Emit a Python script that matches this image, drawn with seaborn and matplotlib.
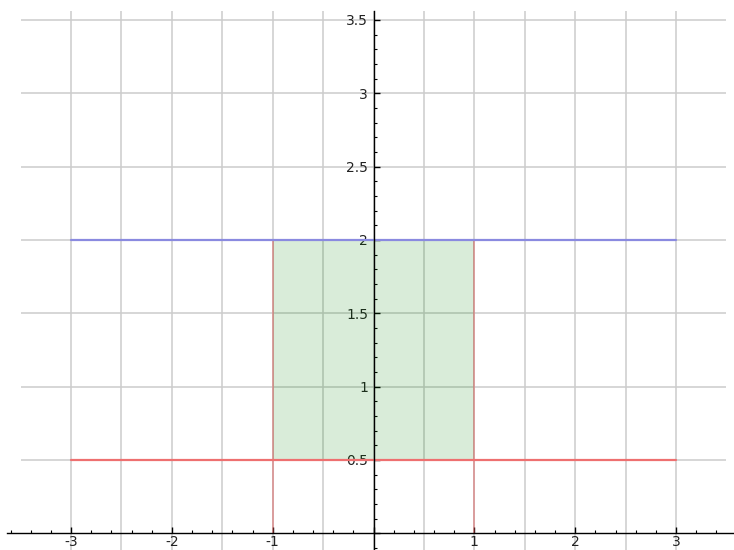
import numpy as np
import pandas as pd
import matplotlib
matplotlib.use("Agg")
import matplotlib.pyplot as plt
import seaborn as sns
from matplotlib.ticker import MultipleLocator, FuncFormatter

sns.set_style("white")
plt.rcParams["font.family"] = ["DejaVu Sans"]

# Curves: upper bound y=2, lower bound y=0.5 over [-3, 3]
x_range = [-3, 3]
upper_y = [2, 2]
lower_y = [0.5, 0.5]
# Shaded region between the bounds for x in [-1, 1]
region_x = [-1, 1]
region_bottom = [0.5, 0.5]
region_top = [2, 2]
# Vertical edges of the region, drawn from the x-axis up to the upper bound
edge_x = [-1, 1]
edge_y = [0, 2]

x_ticks = [-3, -2, -1, 1, 2, 3]
y_ticks = [0.5, 1, 1.5, 2, 2.5, 3, 3.5]
x_grid = [-3, -2.5, -2, -1.5, -1, -0.5, 0, 0.5, 1, 1.5, 2, 2.5, 3]

fig = plt.figure(figsize=(7.34, 5.5), dpi=100)
ax = fig.add_axes([7 / 734, 0, 727 / 734, 539 / 550])
ax.set_xlim(-3.635, 3.575)
ax.set_ylim(-0.114, 3.561)

# grid
for gx in x_grid:
    ax.axvline(gx, color="#cccccc", lw=1.1, zorder=0)
ax.hlines(y_ticks, -3.5, 3.5, color="#cccccc", lw=1.1, zorder=0)

# fill
ax.fill_between(region_x, region_bottom, region_top, color="green", alpha=0.15,
                lw=0, zorder=1)

# vertical edges
for ex in edge_x:
    ax.plot([ex, ex], edge_y, color="#e05050", alpha=0.5, lw=1.2, zorder=2)

df = pd.DataFrame({
    "x": x_range * 2,
    "y": upper_y + lower_y,
    "curve": ["upper", "upper", "lower", "lower"],
})
sns.lineplot(data=df, x="x", y="y", hue="curve",
             palette={"upper": "#8a8ae0", "lower": "#ee7070"},
             lw=1.6, legend=False, ax=ax, zorder=3)
ax.set_xlabel("")
ax.set_ylabel("")

# axes through the origin
for side in ["top", "right"]:
    ax.spines[side].set_visible(False)
ax.spines["left"].set_position(("data", 0))
ax.spines["bottom"].set_position(("data", 0))
for side in ["left", "bottom"]:
    ax.spines[side].set_color("black")
    ax.spines[side].set_linewidth(1.0)
    ax.spines[side].set_zorder(4)

ax.xaxis.set_major_locator(MultipleLocator(1))
ax.xaxis.set_minor_locator(MultipleLocator(0.2))
ax.yaxis.set_major_locator(MultipleLocator(0.5))
ax.yaxis.set_minor_locator(MultipleLocator(0.1))

def fmt(v, pos):
    if abs(v) < 1e-9:
        return ""
    return f"{v:g}"

ax.xaxis.set_major_formatter(FuncFormatter(fmt))
ax.yaxis.set_major_formatter(FuncFormatter(fmt))
ax.tick_params(axis="x", which="both", bottom=True, top=False)
ax.tick_params(axis="y", which="both", left=True, right=False)
ax.tick_params(which="major", direction="in", length=4, width=1, labelsize=10,
               colors="black", pad=4)
ax.tick_params(axis="x", which="major", pad=1.5)
ax.tick_params(which="minor", direction="in", length=2, width=0.8, colors="black")
for lab in ax.get_xticklabels() + ax.get_yticklabels():
    lab.set_color("#222222")

fig.savefig("out.png", dpi=100)
